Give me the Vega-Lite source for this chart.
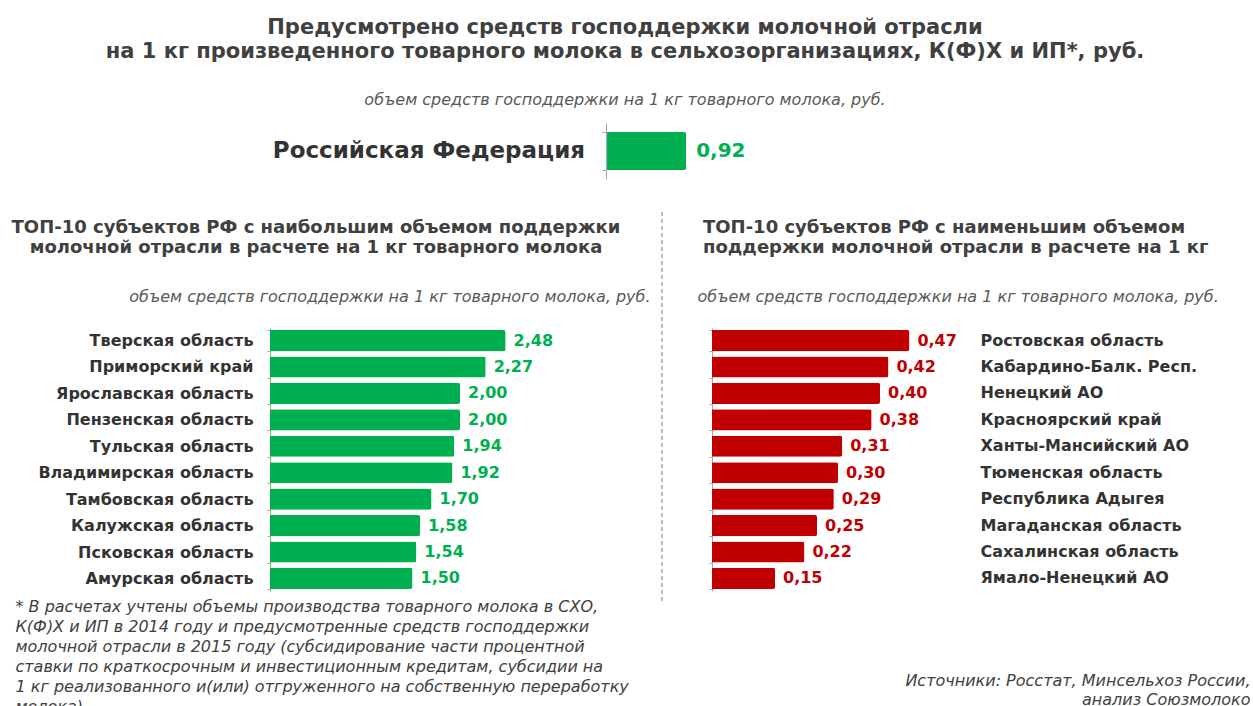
{
  "$schema": "https://vega.github.io/schema/vega-lite/v6.json",
  "background": "white",
  "padding": {"left": 0, "top": 17, "right": 0, "bottom": 0},
  "config": {
    "view": {"stroke": null},
    "locale": {"number": {"decimal": ",", "thousands": " ", "grouping": [3], "currency": ["", " ₽"]}}
  },
  "title": {
    "text": ["Предусмотрено средств господдержки молочной отрасли", "на 1 кг произведенного товарного молока в сельхозорганизациях, К(Ф)Х и ИП*, руб."],
    "subtitle": "объем средств господдержки на 1 кг товарного молока, руб.",
    "anchor": "middle",
    "font": "DejaVu Sans",
    "fontSize": 21,
    "fontWeight": "bold",
    "color": "#404040",
    "lineHeight": 24,
    "subtitleFont": "DejaVu Sans",
    "subtitleFontStyle": "italic",
    "subtitleFontSize": 16,
    "subtitleColor": "#595959",
    "subtitlePadding": 30,
    "offset": 15
  },
  "spacing": 32,
  "vconcat": [
    {
      "width": 500,
      "height": 56,
      "data": {"values": [{"region": "Российская Федерация", "value": 0.92}]},
      "encoding": {
        "y": {
          "field": "region", "type": "nominal", "title": null,
          "scale": {"paddingInner": 0, "paddingOuter": 0.24},
          "axis": {"labels": false, "offset": -336, "tickBand": "extent", "tickSize": 4, "tickColor": "#a6a6a6", "domainColor": "#a6a6a6"}
        },
        "x": {"field": "value", "type": "quantitative", "scale": {"domain": [-3.919, 1.895]}, "axis": null}
      },
      "layer": [
        {"mark": {"type": "bar", "color": "#00b050", "cornerRadiusEnd": 2}},
        {"mark": {"type": "text", "align": "left", "baseline": "middle", "dx": 10, "font": "DejaVu Sans", "fontSize": 20, "fontWeight": "bold", "color": "#00b050"},
         "encoding": {"text": {"field": "value", "type": "quantitative", "format": ".2f"}}},
        {"mark": {"type": "text", "align": "right", "baseline": "middle", "dx": -22, "font": "DejaVu Sans", "fontSize": 23, "fontWeight": "bold", "color": "#333333"},
         "encoding": {"x": {"datum": 0}, "text": {"field": "region", "type": "nominal"}}}
      ]
    },
    {
      "spacing": 0,
      "hconcat": [
        {
          "width": 380,
          "height": 263,
          "title": {"text": ["ТОП-10 субъектов РФ с наибольшим объемом поддержки", "молочной отрасли в расчете на 1 кг товарного молока"], "anchor": "middle", "frame": "bounds", "dx": -9, "font": "DejaVu Sans", "fontSize": 18, "fontWeight": "bold", "color": "#404040", "lineHeight": 20, "offset": 31},
          "data": {"values": [
            {"region": "Тверская область", "value": 2.48},
            {"region": "Приморский край", "value": 2.27},
            {"region": "Ярославская область", "value": 2.00},
            {"region": "Пензенская область", "value": 2.00},
            {"region": "Тульская область", "value": 1.94},
            {"region": "Владимирская область", "value": 1.92},
            {"region": "Тамбовская область", "value": 1.70},
            {"region": "Калужская область", "value": 1.58},
            {"region": "Псковская область", "value": 1.54},
            {"region": "Амурская область", "value": 1.50}
          ]},
          "resolve": {"axis": {"x": "independent", "y": "independent"}},
          "layer": [
            {
              "mark": {"type": "bar", "color": "#00b050", "cornerRadiusEnd": 2},
              "encoding": {
                "y": {"field": "region", "type": "nominal", "sort": null, "title": null,
                  "scale": {"paddingInner": 0.2, "paddingOuter": 0.075},
                  "axis": {"labelFont": "DejaVu Sans", "labelFontSize": 16, "labelFontWeight": "bold", "labelColor": "#333333", "labelPadding": 14, "labelLimit": 400, "tickBand": "extent", "tickSize": 3, "tickColor": "#a6a6a6", "domainColor": "#a6a6a6", "minExtent": 270, "maxExtent": 270}},
                "x": {"field": "value", "type": "quantitative", "scale": {"domain": [0, 3.7]},
                  "axis": {"orient": "top", "labels": false, "ticks": false, "domain": false, "grid": false, "title": "объем средств господдержки на 1 кг товарного молока, руб.", "titleAnchor": "end", "titleFont": "DejaVu Sans", "titleFontSize": 16, "titleFontStyle": "italic", "titleFontWeight": "normal", "titleColor": "#595959", "titlePadding": 24}}
              }
            },
            {
              "mark": {"type": "text", "align": "left", "baseline": "middle", "dx": 8, "font": "DejaVu Sans", "fontSize": 16, "fontWeight": "bold", "color": "#00b050"},
              "encoding": {
                "y": {"field": "region", "type": "nominal", "sort": null, "axis": null},
                "x": {"field": "value", "type": "quantitative",
                  "axis": {"orient": "bottom", "labels": false, "ticks": false, "domain": false, "grid": false,
                    "title": ["* В расчетах учтены объемы производства товарного молока в СХО,", "К(Ф)Х и ИП в 2014 году и предусмотренные средств господдержки", "молочной отрасли в 2015 году (субсидирование части процентной", "ставки по краткосрочным и инвестиционным кредитам, субсидии на", "1 кг реализованного и(или) отгруженного на собственную переработку", "молока)."],
                    "titleX": -255, "titleY": 7, "titleAlign": "left", "titleBaseline": "top", "titleFont": "DejaVu Sans", "titleFontSize": 16, "titleFontStyle": "italic", "titleFontWeight": "normal", "titleColor": "#404040", "titleLineHeight": 20}},
                "text": {"field": "value", "type": "quantitative", "format": ".2f"}
              }
            }
          ]
        },
        {
          "width": 47,
          "height": 263,
          "data": {"values": [{"pos": 0, "top": -116, "bottom": 274}]},
          "mark": {"type": "rule", "color": "#a6a6a6", "strokeDash": [4, 3], "strokeWidth": 1.5},
          "encoding": {
            "x": {"field": "pos", "type": "quantitative", "scale": {"domain": [-12, 35]}, "axis": null},
            "y": {"field": "top", "type": "quantitative", "scale": {"domain": [0, 263], "reverse": true}, "axis": null},
            "y2": {"field": "bottom"}
          }
        },
        {
          "width": 252,
          "height": 263,
          "title": {"text": ["ТОП-10 субъектов РФ с наименьшим объемом", "поддержки молочной отрасли в расчете на 1 кг"], "anchor": "start", "frame": "group", "dx": -9, "font": "DejaVu Sans", "fontSize": 18, "fontWeight": "bold", "color": "#404040", "lineHeight": 20, "offset": 31},
          "data": {"values": [
            {"region": "Ростовская область", "value": 0.47},
            {"region": "Кабардино-Балк. Респ.", "value": 0.42},
            {"region": "Ненецкий АО", "value": 0.40},
            {"region": "Красноярский край", "value": 0.38},
            {"region": "Ханты-Мансийский АО", "value": 0.31},
            {"region": "Тюменская область", "value": 0.30},
            {"region": "Республика Адыгея", "value": 0.29},
            {"region": "Магаданская область", "value": 0.25},
            {"region": "Сахалинская область", "value": 0.22},
            {"region": "Ямало-Ненецкий АО", "value": 0.15}
          ]},
          "resolve": {"axis": {"x": "independent", "y": "independent"}},
          "layer": [
            {
              "mark": {"type": "bar", "color": "#c00000", "cornerRadiusEnd": 2},
              "encoding": {
                "y": {"field": "region", "type": "nominal", "sort": null, "title": null,
                  "scale": {"paddingInner": 0.2, "paddingOuter": 0.075},
                  "axis": {"orient": "left", "labels": false, "tickBand": "extent", "tickSize": 3, "tickColor": "#a6a6a6", "domainColor": "#a6a6a6"}},
                "x": {"field": "value", "type": "quantitative", "scale": {"domain": [0, 0.6]},
                  "axis": {"orient": "top", "labels": false, "ticks": false, "domain": false, "grid": false, "title": "объем средств господдержки на 1 кг товарного молока, руб.", "titleAnchor": "start", "titleAlign": "left", "titleX": -15, "titleFont": "DejaVu Sans", "titleFontSize": 16, "titleFontStyle": "italic", "titleFontWeight": "normal", "titleColor": "#595959", "titlePadding": 24}}
              }
            },
            {
              "mark": {"type": "text", "align": "left", "baseline": "middle", "dx": 8, "font": "DejaVu Sans", "fontSize": 16, "fontWeight": "bold", "color": "#c00000"},
              "encoding": {
                "y": {"field": "region", "type": "nominal", "sort": null, "title": null,
                  "axis": {"orient": "right", "domain": false, "ticks": false, "labelFont": "DejaVu Sans", "labelFontSize": 16, "labelFontWeight": "bold", "labelColor": "#333333", "labelPadding": 16, "labelLimit": 400}},
                "x": {"field": "value", "type": "quantitative",
                  "axis": {"orient": "bottom", "labels": false, "ticks": false, "domain": false, "grid": false,
                    "title": ["Источники: Росстат, Минсельхоз России,", "анализ Союзмолоко"],
                    "titleX": 538, "titleY": 81, "titleAlign": "right", "titleBaseline": "top", "titleFont": "DejaVu Sans", "titleFontSize": 16, "titleFontStyle": "italic", "titleFontWeight": "normal", "titleColor": "#404040", "titleLineHeight": 19}},
                "text": {"field": "value", "type": "quantitative", "format": ".2f"}
              }
            }
          ]
        }
      ]
    }
  ]
}
